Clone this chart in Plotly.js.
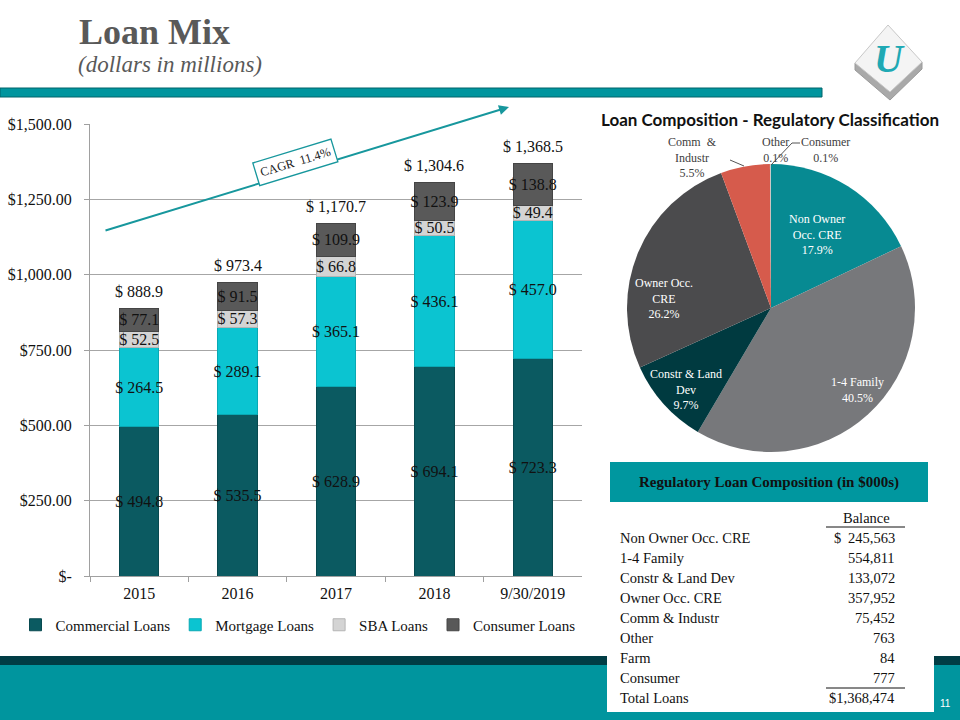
<!DOCTYPE html>
<html><head><meta charset="utf-8">
<script src="https://cdn.plot.ly/plotly-3.0.1.min.js"></script>
<style>html,body{margin:0;padding:0;background:#fff;} #chart{width:960px;height:720px;}</style>
</head><body><div id="chart"></div>
<script>
// ---- Bar chart data (dollars in millions)
const years = ['2015', '2016', '2017', '2018', '9/30/2019'];
const commercial = [494.8, 535.5, 628.9, 694.1, 723.3];
const mortgage = [264.5, 289.1, 365.1, 436.1, 457.0];
const sba = [52.5, 57.3, 66.8, 50.5, 49.4];
const consumer = [77.1, 91.5, 109.9, 123.9, 138.8];
const totals = [888.9, 973.4, 1170.7, 1304.6, 1368.5];
const yTickVals = [0, 250, 500, 750, 1000, 1250, 1500];
const yTickText = ['$-', '$250.00', '$500.00', '$750.00', '$1,000.00', '$1,250.00', '$1,500.00'];
const seriesNames = ['Commercial Loans', 'Mortgage Loans', 'SBA Loans', 'Consumer Loans'];
const cagrText = 'CAGR  11.4%';

// ---- Regulatory composition data (in $000s)
const regLabels = ['Non Owner Occ. CRE', '1-4 Family', 'Constr & Land Dev', 'Owner Occ. CRE', 'Comm & Industr', 'Other', 'Farm', 'Consumer'];
const regBalances = [245563, 554811, 133072, 357952, 75452, 763, 84, 777];
const pieLabelText = ['Non Owner<br>Occ. CRE', '1-4 Family', 'Constr & Land<br>Dev', 'Owner Occ.<br>CRE', 'Comm  &<br>Industr', 'Other', 'Farm', 'Consumer'];

// label placement (pixels) — layout only, not data
const pieLabelPos = [[817, 235], [857, 390], [686, 389], [664, 298], [692, 157], [775, 150], null, [825, 150]];
const pieLabelInside = [true, true, true, true, false, false, false, false];

const serif = 'Liberation Serif, Times New Roman, serif';
const px = x => x / 960;
const py = y => 1 - y / 720;
const TEAL = '#00959E';

function barTrace(name, vals, color, lineColor) {
  return {
    type: 'bar', name: name, x: years, y: vals, width: 0.4,
    marker: {color: color, line: {color: lineColor, width: 1}},
    text: vals.map(v => '$ ' + v.toFixed(1)),
    textposition: 'inside', insidetextanchor: 'middle', textangle: 0, constraintext: 'none',
    textfont: {family: serif, size: 16, color: '#111'},
    hoverinfo: 'skip', xaxis: 'x', yaxis: 'y'
  };
}

const total = regBalances.reduce((a, b) => a + b, 0);
const pct = regBalances.map(v => (v / total * 100).toFixed(1) + '%');

const traces = [
  barTrace(seriesNames[0], commercial, '#0B5A61', '#084a50'),
  barTrace(seriesNames[1], mortgage, '#0BC4D1', '#09a9b4'),
  barTrace(seriesNames[2], sba, '#D4D4D4', '#b5b5b5'),
  barTrace(seriesNames[3], consumer, '#595959', '#454545'),
  {
    type: 'pie', values: regBalances, labels: regLabels, sort: false, direction: 'clockwise', rotation: 0,
    marker: {colors: ['#078A92', '#77787B', '#003A40', '#4B4B4D', '#D65B4C', '#A5A5A5', '#C8C8C8', '#BDBDBD'], line: {width: 0}},
    textinfo: 'none',
    domain: {x: [px(627), px(915)], y: [py(452), py(164)]},
    showlegend: false, hoverinfo: 'skip'
  }
];

const annotations = [];
function paperText(x, y, text, font, extra) {
  return Object.assign({xref: 'paper', yref: 'paper', x: px(x), y: py(y), xanchor: 'center', yanchor: 'middle',
    showarrow: false, text: text, font: font}, extra || {});
}
// totals above bars (category index positions)
years.forEach((yr, i) => annotations.push({
  xref: 'x', yref: 'y', x: i, y: totals[i], yshift: 17, showarrow: false, xanchor: 'center', yanchor: 'middle',
  text: '$ ' + totals[i].toLocaleString('en-US', {minimumFractionDigits: 1, maximumFractionDigits: 1}),
  font: {family: serif, size: 16, color: '#111'}
}));
// titles
annotations.push(paperText(77, 32, 'Loan Mix', {family: serif, size: 36, weight: 'bold', color: '#595959'}, {xanchor: 'left'}));
annotations.push(paperText(76, 64, '(dollars in millions)', {family: serif, size: 23, style: 'italic', color: '#595959'}, {xanchor: 'left'}));
// CAGR arrow + label
annotations.push({xref: 'paper', yref: 'paper', x: px(509), y: py(107), ax: 104 - 509, ay: 231 - 107, text: '',
  showarrow: true, arrowhead: 2, arrowsize: 1, arrowwidth: 2, arrowcolor: '#17979D'});
annotations.push(paperText(295, 163, cagrText, {family: serif, size: 12.5, color: '#222'},
  {textangle: -17, bordercolor: '#17979D', borderwidth: 1.3, borderpad: 4, bgcolor: '#fff'}));
// pie title
annotations.push(paperText(770, 120, 'Loan Composition - Regulatory Classification',
  {family: 'Lato, Open Sans, sans-serif', size: 17, weight: 'bold', color: '#111'}));
// pie labels
pieLabelPos.forEach((p, i) => {
  if (!p) return;
  annotations.push(paperText(p[0], p[1], pieLabelText[i] + '<br>' + pct[i],
    {family: serif, size: 12, color: pieLabelInside[i] ? '#ffffff' : '#404040'}));
});
// table
annotations.push(paperText(769, 483, 'Regulatory Loan Composition (in $000s)', {family: serif, size: 15, weight: 'bold', color: '#111'}));
const tableFont = {family: serif, size: 14.5, color: '#111'};
annotations.push(paperText(866, 518, 'Balance', tableFont));
regLabels.forEach((lab, i) => {
  const y = 538 + 20 * i;
  annotations.push(paperText(618, y, lab, tableFont, {xanchor: 'left'}));
  annotations.push(paperText(897, y, regBalances[i].toLocaleString('en-US'), tableFont, {xanchor: 'right'}));
  if (i === 0) annotations.push(paperText(832, y, '$', tableFont, {xanchor: 'left'}));
});
annotations.push(paperText(618, 538 + 20 * regLabels.length, 'Total Loans', tableFont, {xanchor: 'left'}));
annotations.push(paperText(897, 538 + 20 * regLabels.length, '$' + total.toLocaleString('en-US'), tableFont, {xanchor: 'right'}));
// logo letter
annotations.push(paperText(889, 58, 'U', {family: serif, size: 40, weight: 'bold', style: 'italic', color: '#1FA9B4'}));
// page number
annotations.push(paperText(945, 703, '11', {family: 'Liberation Sans, Arial, sans-serif', size: 10, color: '#fff'}));

function pathFrom(pts) {
  return 'M' + pts.map(p => px(p[0]) + ',' + py(p[1])).join('L') + 'Z';
}
function rect(x0, y0, x1, y1, fill, line, layer) {
  return {type: 'rect', xref: 'paper', yref: 'paper', x0: px(x0), x1: px(x1), y0: py(y1), y1: py(y0),
    fillcolor: fill, line: line || {width: 0}, layer: layer || 'below'};
}
function seg(x0, y0, x1, y1, color, w) {
  return {type: 'line', xref: 'paper', yref: 'paper', x0: px(x0), x1: px(x1), y0: py(y0), y1: py(y1),
    line: {color: color, width: w || 1}, layer: 'above'};
}

const shapes = [
  rect(0, 88, 822, 97, TEAL, {color: '#00656B', width: 1}),
  rect(0, 656, 960, 665, '#003D45'),
  rect(0, 665, 960, 720, TEAL),
  rect(607, 455, 934, 712, '#ffffff'),
  rect(610, 462, 928, 502, '#00979F'),
  seg(826, 527, 905, 527, '#111', 1),
  seg(826, 688, 905, 688, '#111', 1),
  seg(730, 160, 744, 166, '#555', 1),
  {type: 'path', xref: 'paper', yref: 'paper', path: 'M' + px(800) + ',' + py(143) + 'L' + px(792) + ',' + py(143) + 'L' + px(771) + ',' + py(165),
    line: {color: '#555', width: 1}, layer: 'above'},
  {type: 'path', xref: 'paper', yref: 'paper', path: pathFrom([[855, 63], [890, 92], [922, 62], [922, 69], [890, 100], [855, 70]]),
    fillcolor: '#A9A9A9', line: {color: '#9a9a9a', width: 1}, layer: 'below'},
  {type: 'path', xref: 'paper', yref: 'paper', path: pathFrom([[888, 25], [922, 62], [890, 92], [855, 63]]),
    fillcolor: '#F4F4F4', line: {color: '#C8C8C8', width: 1}, layer: 'below'}
];

const layout = {
  width: 960, height: 720, margin: {l: 0, r: 0, t: 0, b: 0},
  paper_bgcolor: '#fff', plot_bgcolor: 'rgba(0,0,0,0)',
  barmode: 'stack', showlegend: true, hovermode: false,
  font: {family: serif, color: '#111'},
  xaxis: {domain: [px(90), px(582)], type: 'category', range: [-0.5, 4.5], showline: true, linecolor: '#A0A0A0', linewidth: 1,
    ticks: 'outside', tickson: 'boundaries', ticklen: 5, tickcolor: '#A0A0A0', showgrid: false, zeroline: false,
    ticklabelstandoff: 3,
    tickfont: {family: serif, size: 16, color: '#111'}, fixedrange: true},
  yaxis: {domain: [py(576), py(124)], range: [0, 1500], tickmode: 'array', tickvals: yTickVals, ticktext: yTickText,
    showgrid: true, gridcolor: '#A6A6A6', gridwidth: 1, showline: true, linecolor: '#A0A0A0', zeroline: false,
    ticks: 'outside', ticklen: 5, tickcolor: '#A0A0A0', ticklabelstandoff: 9,
    tickfont: {family: serif, size: 16, color: '#111'}, fixedrange: true},
  legend: {orientation: 'h', x: px(298), xanchor: 'center', y: py(625), yanchor: 'middle', itemwidth: 30,
    font: {family: serif, size: 15, color: '#111'}, bgcolor: 'rgba(0,0,0,0)', traceorder: 'normal'},
  annotations: annotations,
  shapes: shapes
};

Plotly.newPlot('chart', traces, layout, {staticPlot: true, displayModeBar: false});
</script>
</body></html>
